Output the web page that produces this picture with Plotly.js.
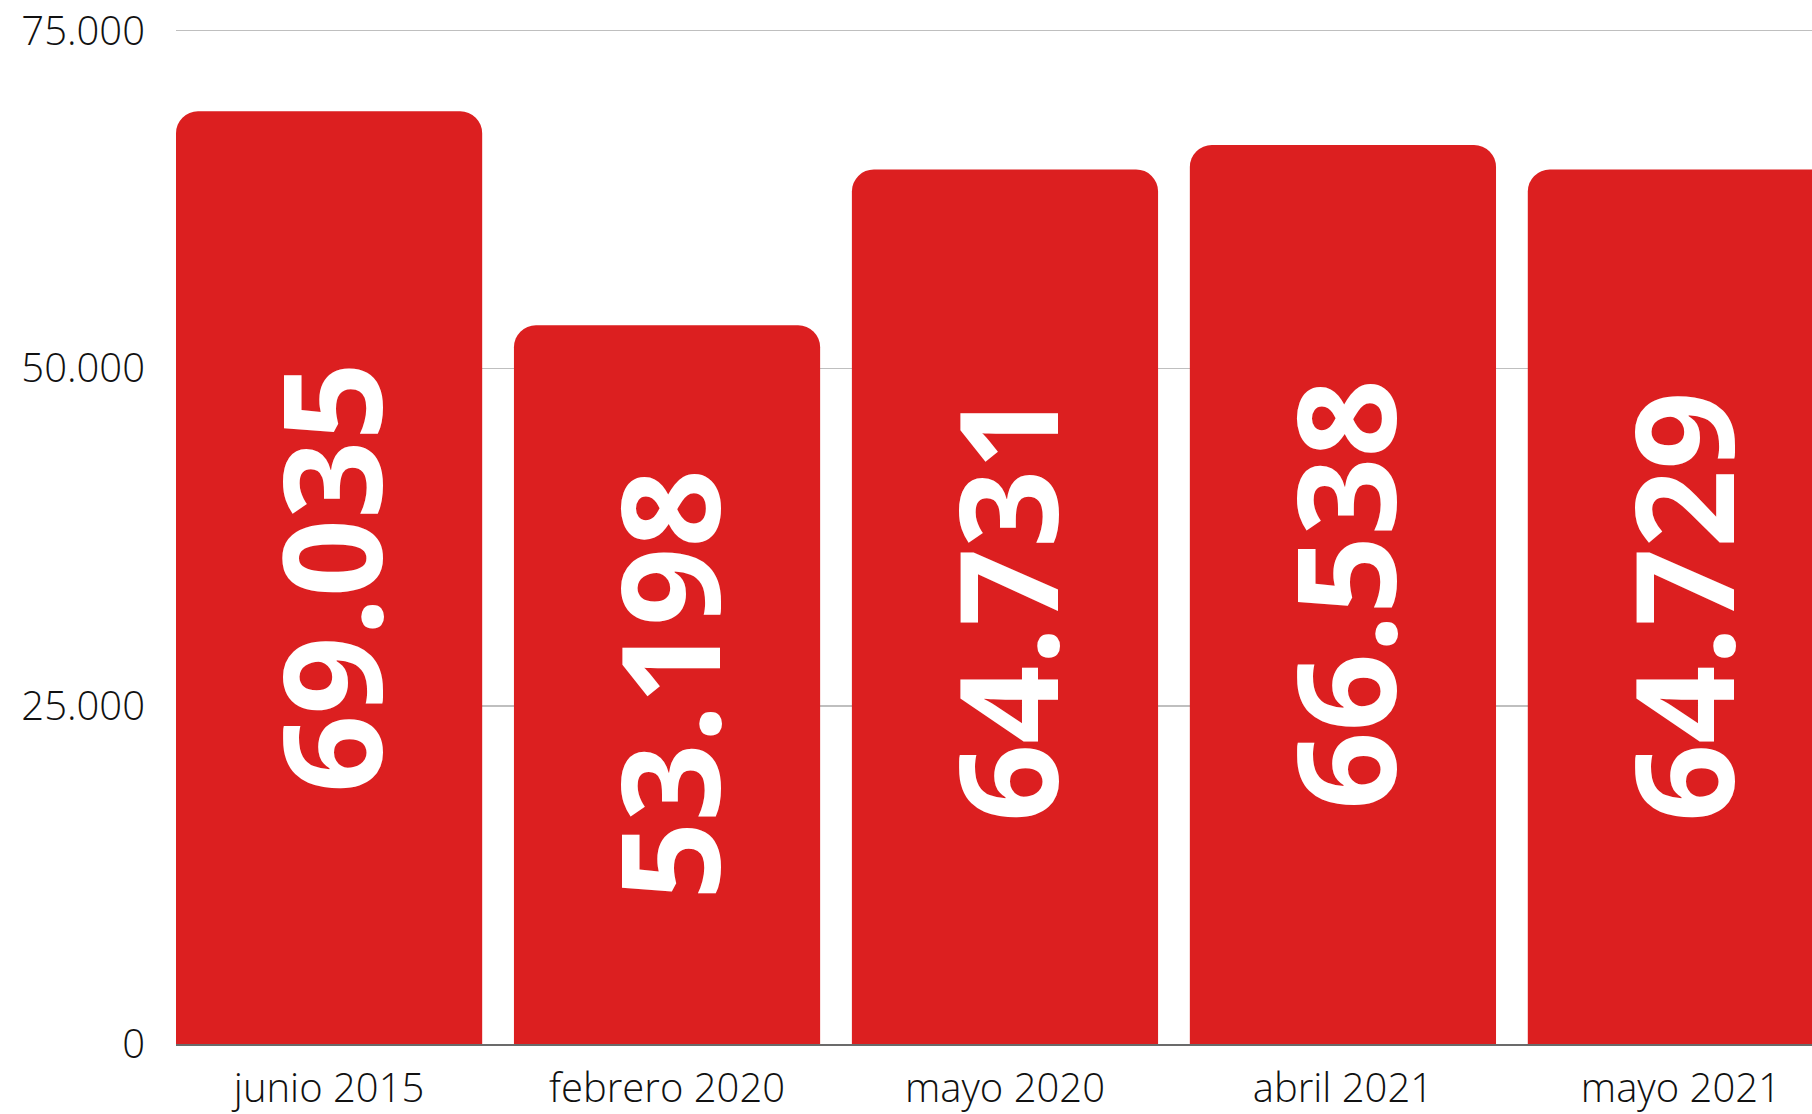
<!DOCTYPE html>
<html>
<head>
<meta charset="utf-8">
<script src="https://cdn.plot.ly/plotly-3.0.1.min.js"></script>
<style>
html,body{margin:0;padding:0;background:#fff;}
#chart{width:1812px;height:1114px;}
</style>
</head>
<body>
<div id="chart"></div>
<script>
const categories = ['junio 2015', 'febrero 2020', 'mayo 2020', 'abril 2021', 'mayo 2021'];
const values = [69035, 53198, 64731, 66538, 64729];
const yTickVals = [0, 25000, 50000, 75000];

const tickFont = {family: '"Open Sans", sans-serif', size: 40, color: '#111111', weight: 300};

const trace = {
  type: 'bar',
  x: categories,
  y: values,
  marker: {color: '#dc1f20', cornerradius: 22, line: {width: 0}},
  texttemplate: '%{y:,.0f}',
  textposition: 'inside',
  insidetextanchor: 'middle',
  textangle: -90,
  constraintext: 'none',
  textfont: {family: '"Open Sans", sans-serif', size: 137, color: '#ffffff', weight: 700},
  hoverinfo: 'skip'
};

const layout = {
  width: 1812,
  height: 1114,
  margin: {l: 176, r: 0, t: 28, b: 70, pad: 0},
  paper_bgcolor: '#ffffff',
  plot_bgcolor: '#ffffff',
  separators: ',.',
  bargap: 0.094,
  showlegend: false,
  xaxis: {
    type: 'category',
    range: [-0.453, 4.388],
    showline: true,
    linecolor: '#6b6b6b',
    linewidth: 2,
    showgrid: false,
    ticks: '',
    tickfont: tickFont,
    ticklabelstandoff: 8,
    fixedrange: true
  },
  yaxis: {
    range: [0, 75200],
    tickvals: yTickVals,
    tickformat: ',d',
    showgrid: true,
    gridcolor: '#bfbfbf',
    gridwidth: 1.5,
    zeroline: false,
    showline: false,
    ticks: '',
    tickfont: tickFont,
    ticklabelstandoff: 30,
    fixedrange: true
  }
};

Plotly.newPlot('chart', [trace], layout, {displayModeBar: false, staticPlot: true});
</script>
</body>
</html>
